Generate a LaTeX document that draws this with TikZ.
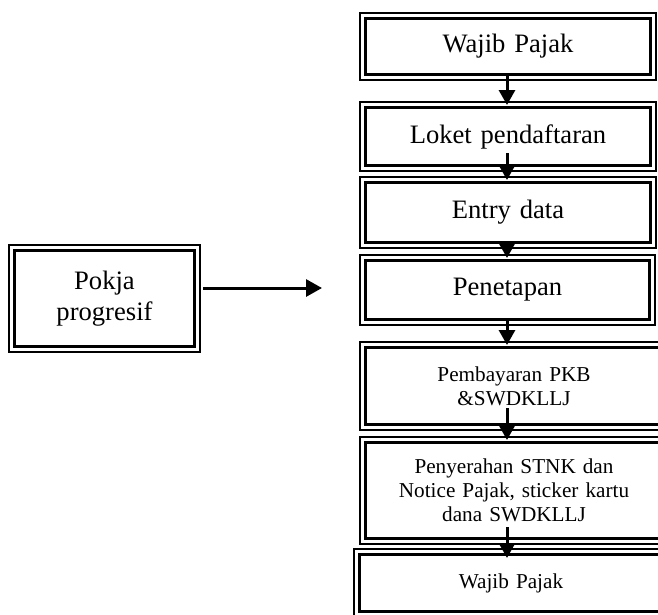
\documentclass[tikz,border=0pt]{standalone}
\usepackage{fontspec}
\setmainfont{Liberation Serif}
\usetikzlibrary{arrows.meta}

\tikzset{
  % inner (thick) line of a framed box; the outer thin line is added separately
  framebox/.style={draw, line width=3.4pt, outer sep=0pt, inner sep=2pt,
    align=center, text width=#1},
  framebox/.default=270pt,
  bigtext/.style={font=\fontsize{26.6}{30.6}\selectfont},
  smalltext/.style={font=\fontsize{21.2}{24}\selectfont},
  outerline/.style={draw, line width=2.2pt},
  flow/.style={line width=3pt,
    -{Triangle[length=15pt, width=16pt]}},
  side/.style={line width=3pt,
    -{Triangle[length=16pt, width=17pt]}}
}

\begin{document}
\begin{tikzpicture}[x=1pt, y=-1pt]
\useasboundingbox (0,0) rectangle (658,614);
\clip (0,0) rectangle (658,614);

% main column of steps
\node[framebox, bigtext, minimum width=285pt, minimum height=56pt]
  (wp1) at (508,46.5) {Wajib Pajak};
\node[framebox, bigtext, minimum width=285pt, minimum height=58pt]
  (loket) at (508,136.5) {Loket pendaftaran};
\node[framebox, bigtext, minimum width=285pt, minimum height=60pt]
  (entry) at (508,212.5) {Entry data};
\node[framebox, bigtext, minimum width=284pt, minimum height=59pt]
  (tetap) at (507.5,290) {Penetapan};
\node[framebox, smalltext, minimum width=297pt, minimum height=77pt]
  (bayar) at (514,386) {Pembayaran PKB\\\&SWDKLLJ};
\node[framebox, smalltext, minimum width=297pt, minimum height=96pt]
  (serah) at (514,490.5) {Penyerahan STNK dan\\Notice Pajak, sticker kartu\\dana SWDKLLJ};
\node[framebox, smalltext, minimum width=303pt, minimum height=57pt]
  (wp2) at (511,583) {Wajib Pajak};

% side box
\node[framebox=170pt, bigtext, minimum width=180pt, minimum height=96pt]
  (pokja) at (104.5,298.5) {Pokja\\progresif};

% outer thin line of every framed box
\foreach \n in {wp1,loket,entry,tetap,bayar,serah,wp2,pokja}
  \draw[outerline] ([shift={(-5.5pt,5.5pt)}]\n.north west)
    rectangle ([shift={(5.5pt,-5.5pt)}]\n.south east);

% vertical flow arrows
\coordinate (axis) at (507,0);
\draw[flow] (wp1.south -| axis) -- ([yshift=2.5pt]loket.north -| axis);
\draw[flow] ([yshift=12.5pt]loket.south -| axis) -- ([yshift=2.5pt]entry.north -| axis);
\draw[flow] (entry.south -| axis) -- ([yshift=2.5pt]tetap.north -| axis);
\draw[flow] (tetap.south -| axis) -- ([yshift=2.5pt]bayar.north -| axis);
\draw[flow] ([yshift=16.5pt]bayar.south -| axis) -- ([yshift=2.5pt]serah.north -| axis);
\draw[flow] ([yshift=11.5pt]serah.south -| axis) -- ([yshift=-3.5pt]wp2.north -| axis);

% arrow leaving the side box
\coordinate (ptip) at (322,288);
\draw[side] ([xshift=8.5pt]pokja.east |- ptip) -- (ptip);
\end{tikzpicture}
\end{document}
